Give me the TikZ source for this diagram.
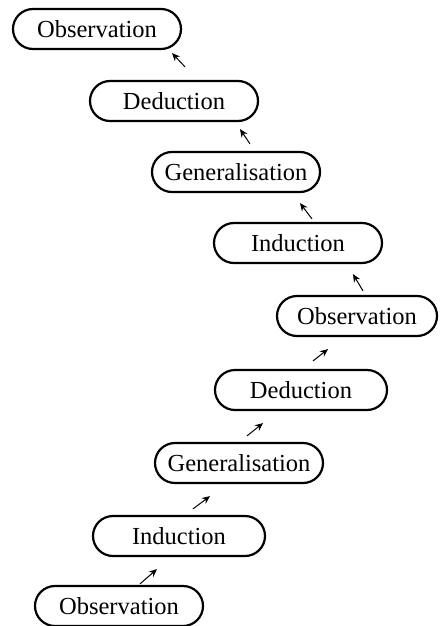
\documentclass[tikz,border=0pt]{standalone}
\usepackage{fontspec}
\setmainfont{Liberation Serif}
\usetikzlibrary{arrows.meta}
\tikzset{
  stage/.style={draw, line width=2.2pt, rounded corners=20pt,
    minimum height=40pt, minimum width=168pt, inner sep=0pt,
    font=\fontsize{24.5}{27}\selectfont},
  arr/.style={line width=1pt, -{Stealth[length=8pt,width=7pt]}}
}
\begin{document}
\begin{tikzpicture}[x=1pt, y=-1pt]
\useasboundingbox (0,0) rectangle (439,626);
% the nine stages, from the top down
\node[stage] (o1) at (97,29)  {Observation};
\node[stage] (d1) at (174,101) {Deduction};
\node[stage] (g1) at (236,172) {Generalisation};
\node[stage] (i1) at (298,243) {Induction};
\node[stage, minimum width=160pt] (o2) at (357,316) {Observation};
\node[stage, minimum width=172pt] (d2) at (301,390) {Deduction};
\node[stage] (g2) at (239,463) {Generalisation};
\node[stage, minimum width=172pt] (i2) at (179,536) {Induction};
\node[stage] (o3) at (119,606) {Observation};
% upper chain: arrows point up and to the left
\draw[arr] ([shift={(11,-13)}]d1.north) -- ([shift={(75,3)}]o1.south);
\draw[arr] ([shift={(14,-7)}]g1.north) -- ([shift={(66,7)}]d1.south);
\draw[arr] ([shift={(14,-3)}]i1.north) -- ([shift={(64,10)}]g1.south);
\draw[arr] ([shift={(6,-4)}]o2.north) -- ([shift={(55,10)}]i1.south);
% lower chain: arrows point up and to the right
\draw[arr] ([shift={(12,-8)}]d2.north) -- ([shift={(-29,12)}]o2.south);
\draw[arr] ([shift={(8,-6)}]g2.north) -- ([shift={(-38,12)}]d2.south);
\draw[arr] ([shift={(14,-6)}]i2.north) -- ([shift={(-29,12)}]g2.south);
\draw[arr] ([shift={(21,-1)}]o3.north) -- ([shift={(-22,12)}]i2.south);
\end{tikzpicture}
\end{document}
